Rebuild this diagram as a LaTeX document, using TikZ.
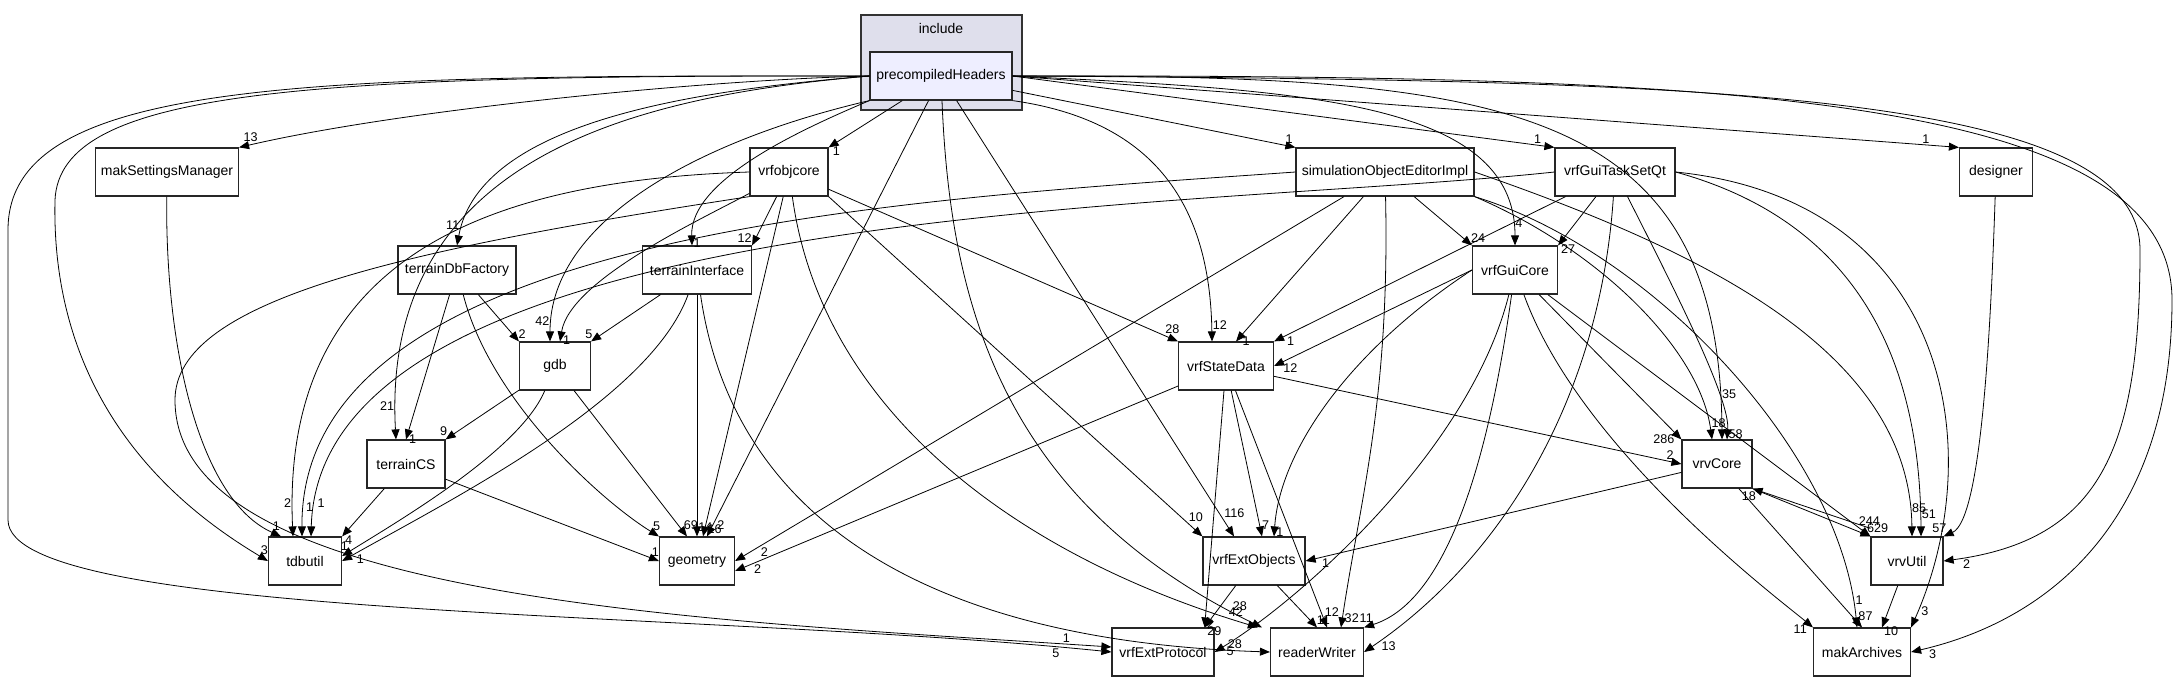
\documentclass[tikz,border=0pt]{standalone}
\usepackage{fontspec}
\setmainfont{Liberation Sans}
\usetikzlibrary{positioning, arrows.meta}

\definecolor{clusterfill}{RGB}{223,223,236}
\definecolor{phfill}{RGB}{238,238,255}
\tikzset{
  dir/.style={draw=black!85, fill=white, line width=0.6pt, rectangle, minimum height=24pt, inner sep=1pt, font=\fontsize{7}{8}\selectfont},
  dep/.style={-{Triangle[length=5pt,width=4pt]}, line width=0.4pt},
  lbl/.style={pos=0.96, font=\fontsize{6.3}{7}\selectfont, inner sep=0.5pt, auto},
}

\begin{document}
\begin{tikzpicture}[x=0.5pt, y=-0.5pt]
  \useasboundingbox (0,0) rectangle (2179,681);
  % cluster
  \draw[fill=clusterfill, draw=black!80, line width=0.6pt] (861,15) rectangle (1022,110);
  \node[font=\fontsize{7}{8}\selectfont] at (941,28) {include};
  \node[dir, fill=phfill, minimum width=71pt] (ph) at (941,76) {precompiledHeaders};

  % row 2
  \node[dir, minimum width=71.5pt] (mak) at (167,172) {makSettingsManager};
  \node[dir, minimum width=39pt] (objcore) at (789,172) {vrfobjcore};
  \node[dir, minimum width=89pt] (simed) at (1385,172) {simulationObjectEditorImpl};
  \node[dir, minimum width=60pt] (taskqt) at (1615,172) {vrfGuiTaskSetQt};
  \node[dir, minimum width=36.5pt] (designer) at (1996,172) {designer};
  % row 3
  \node[dir, minimum width=59pt] (tdbfac) at (457,270) {terrainDbFactory};
  \node[dir, minimum width=54.5pt] (tint) at (697,270) {terrainInterface};
  \node[dir, minimum width=42.5pt] (guicore) at (1515,270) {vrfGuiCore};
  % row 4
  \node[dir, minimum width=35.5pt] (gdb) at (555,366) {gdb};
  \node[dir, minimum width=47.5pt] (state) at (1226,366) {vrfStateData};
  % row 5
  \node[dir, minimum width=39pt] (tcs) at (406,464) {terrainCS};
  \node[dir, minimum width=35pt] (vrvcore) at (1717,464) {vrvCore};
  % row 6
  \node[dir, minimum width=36.5pt] (tdbutil) at (305,561) {tdbutil};
  \node[dir, minimum width=37.5pt] (geom) at (697,561) {geometry};
  \node[dir, minimum width=51pt] (extobj) at (1254,561) {vrfExtObjects};
  \node[dir, minimum width=36pt] (vrvutil) at (1907,561) {vrvUtil};
  % row 7
  \node[dir, minimum width=51pt] (extproto) at (1163,652) {vrfExtProtocol};
  \node[dir, minimum width=46.5pt] (rw) at (1317,652) {readerWriter};
  \node[dir, minimum width=48.5pt] (arch) at (1862,652) {makArchives};

  % from precompiledHeaders
  \draw[dep] (ph.west) .. controls (700,80) and (400,110) .. node[lbl,swap]{13} (mak.north east);
  \draw[dep] (ph.west) .. controls (300,75) and (60,90) .. (55,200) .. controls (50,420) and (200,520) .. node[lbl]{3} (tdbutil.west);
  \draw[dep] (ph.west) .. controls (300,75) and (8,80) .. (8,230) -- (8,520) .. controls (8,620) and (700,610) .. node[lbl,swap]{5} (extproto.west);
  \draw[dep] (ph.west) .. controls (700,90) and (480,120) .. node[lbl,swap]{11} (tdbfac.north);
  \draw[dep] (ph.west) .. controls (650,95) and (380,150) .. node[lbl,swap]{21} ([xshift=-5pt]tcs.north);
  \draw[dep] (ph.south west) .. controls (700,140) and (550,220) .. node[lbl,swap]{42} ([xshift=-2.5pt]gdb.north);
  \draw[dep] (ph) -- node[lbl]{1} (objcore.north east);
  \draw[dep] (ph.south west) .. controls (800,130) and (690,180) .. node[lbl]{1} ([xshift=-2.5pt]tint.north);
  \draw[dep] (ph) -- node[lbl]{2} ([xshift=5pt]geom.north);
  \draw[dep] (ph) .. controls (950,300) and (1000,500) .. node[lbl]{28} ([xshift=-4pt]rw.north west);
  \draw[dep] (ph) -- node[lbl]{116} ([xshift=-10pt]extobj.north);
  \draw[dep] (ph.south east) .. controls (1150,120) and (1210,200) .. node[lbl]{12} ([xshift=-7pt]state.north);
  \draw[dep] (ph) -- node[lbl]{1} (simed.north west);
  \draw[dep] (ph.east) .. controls (1300,90) and (1515,100) .. node[lbl]{4} (guicore.north);
  \draw[dep] (ph.east) -- node[lbl]{1} (taskqt.north west);
  \draw[dep] (ph.east) .. controls (1500,75) and (1720,100) .. node[lbl]{35} ([xshift=2.5pt]vrvcore.north);
  \draw[dep] (ph.east) -- node[lbl]{1} (designer.north west);
  \draw[dep] (ph.east) .. controls (1700,80) and (2140,90) .. (2140,250) .. controls (2140,450) and (2100,540) .. node[lbl]{2} (vrvutil.east);
  \draw[dep] (ph.east) .. controls (1700,75) and (2172,90) .. (2172,300) .. controls (2172,520) and (2050,620) .. node[lbl]{3} (arch.east);

  % vrfobjcore
  \draw[dep] (objcore.west) .. controls (500,180) and (280,250) .. node[lbl,swap]{2} ([xshift=-6pt]tdbutil.north);
  \draw[dep] (objcore.south west) .. controls (400,250) and (175,300) .. (175,400) .. controls (175,600) and (700,620) .. node[lbl]{1} ([yshift=2.5pt]extproto.west);
  \draw[dep] (objcore) .. controls (700,220) and (570,280) .. node[lbl]{1} ([xshift=2.5pt]gdb.north);
  \draw[dep] (objcore) -- node[lbl,swap]{12} (tint.north east);
  \draw[dep] (objcore) -- node[lbl]{16} ([xshift=3pt]geom.north);
  \draw[dep] (objcore) .. controls (820,400) and (1000,550) .. node[lbl]{42} ([xshift=-6pt]rw.north west);
  \draw[dep] (objcore) -- node[lbl]{28} (state.north west);
  \draw[dep] (objcore.south east) -- node[lbl]{10} (extobj.north west);
  \draw[dep] (mak) .. controls (165,350) and (200,500) .. node[lbl]{1} ([xshift=-12pt]tdbutil.north);

  % terrain
  \draw[dep] (tdbfac) -- node[lbl]{2} (gdb.north west);
  \draw[dep] (tdbfac) -- node[lbl]{1} (tcs.north);
  \draw[dep] (tdbfac) .. controls (490,400) and (600,500) .. node[lbl]{5} (geom.north west);
  \draw[dep] (tint) .. controls (650,400) and (450,500) .. node[lbl]{1} (tdbutil.east);
  \draw[dep] (tint) -- node[lbl,swap]{5} (gdb.north east);
  \draw[dep] (tint) -- node[lbl]{14} (geom.north);
  \draw[dep] (tint) .. controls (730,500) and (900,640) .. node[lbl]{28} (rw.west);
  \draw[dep] (gdb) -- node[lbl,swap]{9} (tcs.north east);
  \draw[dep] (gdb) .. controls (520,450) and (400,520) .. node[lbl,swap]{1} ([yshift=2.5pt]tdbutil.east);
  \draw[dep] (gdb) -- node[lbl]{69} ([xshift=-5pt]geom.north);
  \draw[dep] (tcs) -- node[lbl]{4} (tdbutil.north east);
  \draw[dep] (tcs) -- node[lbl]{1} (geom.west);

  % simulationObjectEditorImpl
  \draw[dep] (simed.west) .. controls (900,200) and (300,230) .. node[lbl]{1} ([xshift=-1.5pt]tdbutil.north);
  \draw[dep] (simed) -- node[lbl]{2} (geom.east);
  \draw[dep] (simed) -- node[lbl]{1} ([xshift=5pt]state.north);
  \draw[dep] (simed) -- node[lbl]{24} (guicore.north west);
  \draw[dep] (simed) .. controls (1390,400) and (1360,500) .. node[lbl]{32} ([xshift=12pt]rw.north);
  \draw[dep] (simed.south east) .. controls (1600,250) and (1700,350) .. node[lbl]{18} ([xshift=-2.5pt]vrvcore.north);
  \draw[dep] (simed.east) .. controls (1700,250) and (1910,350) .. node[lbl]{85} ([xshift=2.5pt]vrvutil.north);
  \draw[dep] (simed.south east) .. controls (1650,250) and (1840,450) .. node[lbl]{1} ([xshift=-2.5pt]arch.north);

  % vrfGuiTaskSetQt
  \draw[dep] (taskqt.west) .. controls (1200,210) and (320,200) .. node[lbl]{1} ([xshift=3pt]tdbutil.north);
  \draw[dep] (taskqt) -- node[lbl]{1} (state.north east);
  \draw[dep] (taskqt) -- node[lbl]{27} (guicore.north east);
  \draw[dep] (taskqt) .. controls (1600,400) and (1500,560) .. node[lbl]{13} (rw.east);
  \draw[dep] (taskqt) .. controls (1680,300) and (1730,400) .. node[lbl]{58} ([xshift=5pt]vrvcore.north);
  \draw[dep] (taskqt.east) .. controls (1850,220) and (1920,350) .. node[lbl]{51} ([xshift=7pt]vrvutil.north);
  \draw[dep] (taskqt.east) .. controls (1950,200) and (1990,450) .. node[lbl]{3} (arch.north east);
  \draw[dep] (designer) .. controls (1990,350) and (1980,520) .. node[lbl,swap]{57} (vrvutil.north east);

  % vrfGuiCore
  \draw[dep] (guicore.west) -- node[lbl]{12} (state.east);
  \draw[dep] (guicore.west) .. controls (1350,350) and (1280,450) .. node[lbl]{1} ([xshift=10pt]extobj.north);
  \draw[dep] (guicore) .. controls (1470,450) and (1300,600) .. node[lbl]{5} (extproto.east);
  \draw[dep] (guicore) .. controls (1490,450) and (1450,600) .. node[lbl,swap]{11} (rw.north east);
  \draw[dep] (guicore) -- node[lbl,swap]{286} (vrvcore.north west);
  \draw[dep] (guicore) -- node[lbl]{244} (vrvutil.north west);
  \draw[dep] (guicore) .. controls (1580,450) and (1780,600) .. node[lbl,swap]{11} (arch.north west);

  % vrfStateData
  \draw[dep] (state) -- node[lbl]{2} ([yshift=-5pt]geom.east);
  \draw[dep] (state) -- node[lbl]{2} (vrvcore.west);
  \draw[dep] (state) -- node[lbl]{7} ([xshift=4pt]extobj.north);
  \draw[dep] (state) -- node[lbl]{2} ([xshift=-5pt]extproto.north east);
  \draw[dep] (state) -- node[lbl]{12} ([xshift=5pt]rw.north);

  % rest
  \draw[dep] (extobj) -- node[lbl]{29} ([xshift=-5pt]extproto.north east);
  \draw[dep] (extobj) -- node[lbl]{11} (rw.north);
  \draw[dep] (vrvcore) -- node[lbl]{1} (extobj.east);
  \draw[dep] (vrvcore.south east) -- node[lbl]{629} (vrvutil.north west);
  \draw[dep] ([yshift=4pt]vrvutil.north west) -- node[lbl]{18} (vrvcore.south east);
  \draw[dep] (vrvcore) -- node[lbl]{87} (arch.north);
  \draw[dep] (vrvutil) -- node[lbl]{10} ([xshift=10pt]arch.north);
\end{tikzpicture}
\end{document}
